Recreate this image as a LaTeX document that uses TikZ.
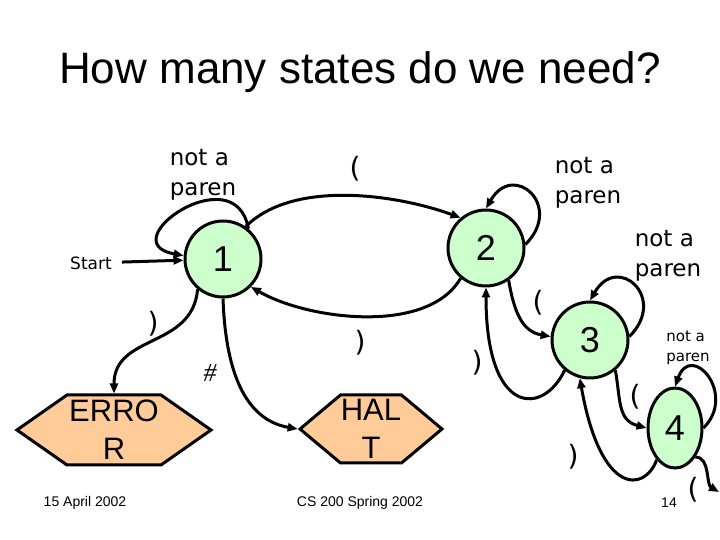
\documentclass[tikz,border=0pt]{standalone}
\usepackage{fontspec}
\setmainfont{Liberation Sans}
\newfontfamily\lblfont{DejaVu Sans}
\newfontfamily\hashfont{Liberation Serif}
\usepackage{tikz}
\usetikzlibrary{arrows.meta, shapes.geometric, shapes.symbols, positioning}
\definecolor{statefill}{RGB}{204,255,204}
\definecolor{endfill}{RGB}{255,204,153}

\begin{document}
\begin{tikzpicture}[
  x=1pt, y=1pt,
  >={Triangle[length=10pt,width=8pt]},
  % Transition edge
  arr/.style={->, line width=3pt, draw=black},
  % State circle
  statenode/.style={circle, draw=black, line width=3pt, fill=statefill, minimum size=76pt, inner sep=0pt, font=\fontsize{36}{40}\selectfont},
  % Final (hexagon) state
  endnode/.style={signal, signal to=east and west, draw=black, line width=3pt, fill=endfill, inner sep=0pt, align=center, font=\fontsize{31}{38}\selectfont},
  % Edge labels
  lbl/.style={font=\lblfont\fontsize{23}{30}\selectfont, align=left, inner sep=0pt},
  plbl/.style={font=\lblfont\fontsize{28}{30}\selectfont, inner sep=0pt},
  foot/.style={font=\fontsize{14}{16}\selectfont, inner sep=0pt}
]
\useasboundingbox (0,0) rectangle (720,540);

%% Title
\node[font=\fontsize{44}{50}\selectfont] (title) at (360,468) {How many states do we need?};

%% States
\node[statenode] (n1) at (223,281) {1};
\node[statenode] (n2) at (486,292) {2};
\node[statenode] (n3) at (590,200) {3};
\node[statenode, ellipse, minimum width=54pt, minimum height=80pt] (n4) at (675,112) {4};
\node[endnode, minimum width=194pt, minimum height=70pt, signal pointer angle=70] (err) at (114,110) {ERRO\\R};
\node[endnode, minimum width=142pt, minimum height=68pt, signal pointer angle=80] (halt) at (371,111) {HAL\\T};

%% Start arrow
\node[font=\lblfont\fontsize{17}{20}\selectfont, inner sep=0pt] (start) at (91,277) {Start};
\draw[arr, shorten <=10pt] (start) -- (n1);

%% Transitions
% loop on 1
\draw[arr] (n1.50) to[out=100, in=170, distance=75pt] (n1.175);
\node[lbl] (l1) at (203,365) {not a\\paren};

% 1 to 2
\draw[arr] (n1.55) to[out=45, in=160, looseness=0.8] (n2.130);
\node[plbl] (p12) at (355,371) {(};

% 2 to 1
\draw[arr] (n2.230) to[out=240, in=-30, looseness=0.8] (n1.-45);
\node[plbl] (p21) at (360,197) {)};

% loop on 2
\draw[arr] (n2.5) to[out=45, in=60, distance=55pt] (n2.north);
\node[lbl] (l2) at (588,357) {not a\\paren};

% 2 to 3
\draw[arr] (n2.-55) to[out=-80, in=170, distance=30pt] (n3.175);
\node[plbl] (p23) at (538,237) {(};

% 3 to 2
\draw[arr] (n3.230) to[out=245, in=270, out distance=50pt, in distance=130pt] (n2.south);
\node[plbl] (p32) at (477,177) {)};

% loop on 3
\draw[arr] (n3.5) to[out=45, in=60, distance=55pt] (n3.north);
\node[lbl] (l3) at (668,284) {not a\\paren};

% 3 to 4
\draw[arr] (n3.-50) to[out=-80, in=165, distance=30pt] (n4.west);
\node[plbl] (p34) at (635,143) {(};

% 4 to 3
\draw[arr] (n4.240) to[out=250, in=-80, out distance=35pt, in distance=120pt] (n3.-105);
\node[plbl] (p43) at (573,83) {)};

% loop on 4
\draw[arr] (n4.east) to[out=45, in=70, distance=48pt] (n4.north);
\node[lbl, font=\lblfont\fontsize{15}{20}\selectfont] (l4) at (688,192) {not a\\paren};

% 4 onwards
\coordinate (out4) at (719,48);
\draw[arr] (n4.-55) to[out=0, in=150, distance=15pt] (out4);
\node[plbl] (p4o) at (693,50) {(};

% 1 to ERROR
\draw[arr] (n1.230) to[out=265, in=90, distance=60pt] (err.north);
\node[plbl] (p1e) at (153,216) {)};

% 1 to HALT
\draw[arr] (n1.south) to[out=-88, in=170, out distance=80pt, in distance=50pt] (halt.west);
\node[font=\hashfont\itshape\fontsize{26}{28}\selectfont, inner sep=0pt] (hash) at (210,167) {\#};

%% Footer
\node[foot] (date) at (85,37) {15 April 2002};
\node[foot] (course) at (360,37) {CS 200 Spring 2002};
\node[foot] (page) at (669,37) {14};

\end{tikzpicture}
\end{document}
